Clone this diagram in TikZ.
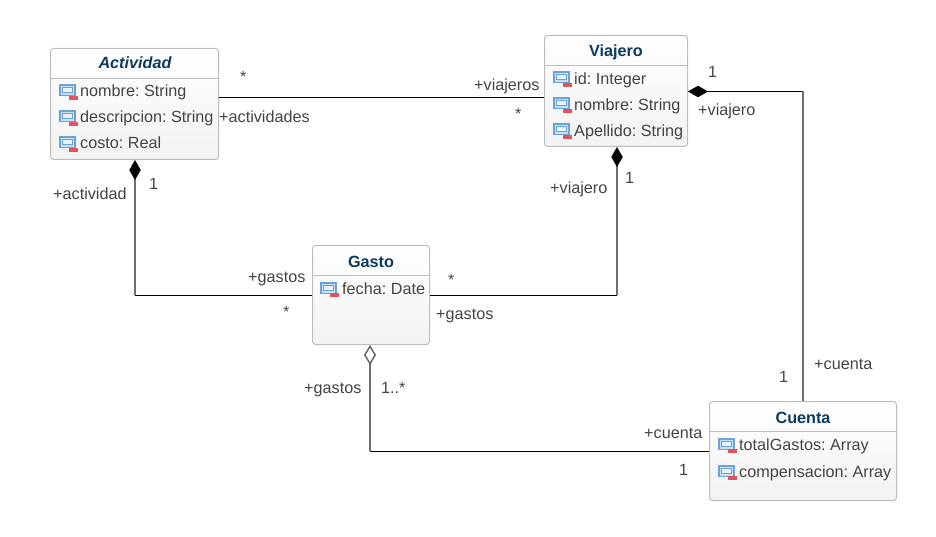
\documentclass[tikz,border=0pt]{standalone}
\usepackage{fontspec}
\setmainfont{Liberation Sans}
\usetikzlibrary{arrows.meta}
\definecolor{titleblue}{HTML}{0B3A63}
\definecolor{textgray}{HTML}{444444}
\definecolor{boxedge}{HTML}{BDBDBD}
\definecolor{iconblue}{HTML}{6BA3D6}
\definecolor{iconfill}{HTML}{C9DFF3}
\definecolor{iconred}{HTML}{E2545A}
\definecolor{vline}{HTML}{6E6E6E}
\tikzset{
  x=1pt,y=-1pt,
  umlbox/.style={draw=boxedge,line width=1pt,rounded corners=3pt,top color=white,bottom color=black!5,minimum width=#1,inner sep=0pt},
  txt/.style={anchor=base west,inner sep=0,text=textgray,font=\fontsize{16.2}{18}\selectfont\frenchspacing},
  lab/.style={txt},
  title/.style={anchor=base,inner sep=0,text=titleblue,font=\fontsize{16.2}{18}\selectfont\bfseries},
  conn/.style={line width=1pt,black,line cap=butt},
  vseg/.style={line width=2pt,vline},
  comp/.style={{Diamond[length=20pt,width=11.5pt,fill=black,color=black]}-},
  aggr/.style={{Diamond[length=20pt,width=12pt,fill=white,line width=1.4pt,color=black!62]}-},
  pics/attr/.style={code={
    \fill[iconblue] (0,0) rectangle (16.5,12);
    \fill[iconfill] (1.5,1.5) rectangle (15,10.5);
    \fill[iconblue] (2.7,2.7) rectangle (13.8,8.7);
    \fill[white!85!iconblue] (3.7,3.7) rectangle (12.8,7.7);
    \fill[iconred] (10.3,11.3) rectangle (19.3,15.3);
  }}
}
\begin{document}
\begin{tikzpicture}
\useasboundingbox (0,0) rectangle (936,537);
% boxes
\node[umlbox=168pt,minimum height=111pt] (actividad) at (134.5,104) {};
\node[umlbox=143pt,minimum height=111pt] (viajero) at (616,91) {};
\node[umlbox=117pt,minimum height=99pt] (gasto) at (371,295) {};
\node[umlbox=187pt,minimum height=99pt] (cuenta) at (803,451) {};
% header rules
\draw[boxedge] (actividad.west |- 0,78) -- (actividad.east |- 0,78);
\draw[boxedge] (viajero.west |- 0,65) -- (viajero.east |- 0,65);
\draw[boxedge] (gasto.west |- 0,275) -- (gasto.east |- 0,275);
\draw[boxedge] (cuenta.west |- 0,431) -- (cuenta.east |- 0,431);
% titles
\node[title,font=\fontsize{16.2}{18}\selectfont\bfseries\itshape] (t1) at (135,69) {Actividad};
\node[title] (t2) at (616,57) {Viajero};
\node[title] (t3) at (371,267) {Gasto};
\node[title] (t4) at (803,423) {Cuenta};
% attributes
\pic at (59,84.5) {attr};
\pic at (59,110.5) {attr};
\pic at (59,136.5) {attr};
\pic at (553,71.5) {attr};
\pic at (553,97.5) {attr};
\pic at (553,123.5) {attr};
\pic at (320,282) {attr};
\pic at (718,438) {attr};
\pic at (718,465) {attr};
\node[txt] (a1) at (80,97) {nombre: String};
\node[txt] (a2) at (80,123) {descripcion: String};
\node[txt] (a3) at (80,149) {costo: Real};
\node[txt] (v1) at (574,85) {id: Integer};
\node[txt] (v2) at (574,111) {nombre: String};
\node[txt] (v3) at (574,137) {Apellido: String};
\node[txt] (g1) at (342,294) {fecha: Date};
\node[txt] (c1) at (739,450) {totalGastos: Array};
\node[txt] (c2) at (739,477) {compensacion: Array};
% connectors
\draw[conn] ([yshift=6.5pt]actividad.east) -- ([yshift=-6.5pt]viajero.west);
\draw[vseg,comp] ([xshift=.5pt]actividad.south) -- ([xshift=.5pt]actividad.south |- gasto.west);
\draw[conn] ([xshift=.5pt,yshift=-.5pt]actividad.south |- gasto.west) -- ([yshift=-.5pt]gasto.west);
\draw[vseg,comp] ([xshift=1pt]viajero.south) -- ([xshift=1pt]viajero.south |- gasto.east);
\draw[conn] ([xshift=1pt,yshift=-.5pt]viajero.south |- gasto.east) -- ([yshift=-.5pt]gasto.east);
\draw[conn,comp] ([yshift=-.5pt]viajero.east) -- ([yshift=-.5pt]viajero.east -| cuenta.north);
\draw[vseg] (viajero.east -| cuenta.north) -- (cuenta.north);
\draw[vseg,aggr] ([xshift=-1pt]gasto.south) -- ([xshift=-1pt]gasto.south |- cuenta.west);
\draw[conn] ([xshift=-1pt,yshift=-.5pt]gasto.south |- cuenta.west) -- ([yshift=-.5pt]cuenta.west);
% connector labels
\node[lab] (l1) at (240,83) {*};
\node[lab] (l2) at (474,91) {+viajeros};
\node[lab] (l3) at (219,123) {+actividades};
\node[lab] (l4) at (515,120) {*};
\node[lab] (l5) at (708,78) {1};
\node[lab] (l6) at (698,116) {+viajero};
\node[lab] (l7) at (53,200) {+actividad};
\node[lab] (l8) at (149,190) {1};
\node[lab] (l9) at (248,282) {+gastos};
\node[lab] (l10) at (283,317) {*};
\node[lab] (l11) at (448,285) {*};
\node[lab] (l12) at (436,319) {+gastos};
\node[lab] (l13) at (550,194) {+viajero};
\node[lab] (l14) at (625,184) {1};
\node[lab] (l15) at (304,393) {+gastos};
\node[lab] (l16) at (381,393) {1..*};
\node[lab] (l17) at (644,438) {+cuenta};
\node[lab] (l18) at (679,475) {1};
\node[lab] (l19) at (814,369) {+cuenta};
\node[lab] (l20) at (779,382) {1};
\end{tikzpicture}
\end{document}
